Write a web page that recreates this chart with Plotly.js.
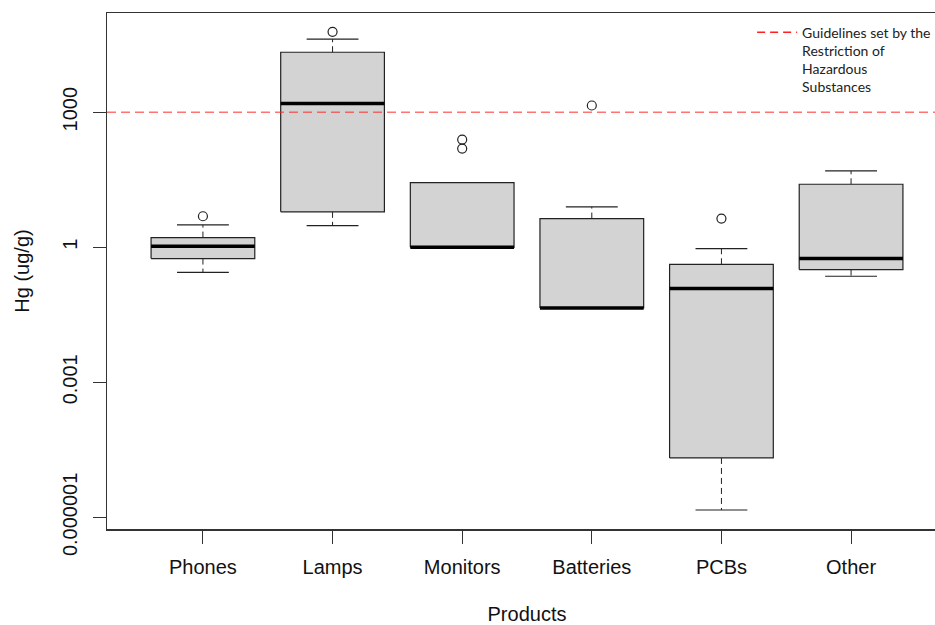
<!DOCTYPE html>
<html>
<head>
<meta charset="utf-8">
<script src="https://cdn.plot.ly/plotly-3.0.1.min.js"></script>
<style>html,body{margin:0;padding:0;background:#fff;overflow:hidden;width:935px;height:625px;}#chart{width:947px;height:625px;}</style>
</head>
<body>
<div id="chart"></div>
<script>
// ---- data ----
var categories = ['Phones', 'Lamps', 'Monitors', 'Batteries', 'PCBs', 'Other'];
var lowerWhisker = [0.278, 3.04, 1.0, 0.045, 1.46e-6, 0.227];
var q1           = [0.561, 6.12, 1.0, 0.045, 2.09e-5, 0.319];
var medians      = [1.05, 1560, 1.0, 0.045, 0.121, 0.561];
var q3           = [1.64, 21500, 27.4, 4.34, 0.419, 25.1];
var upperWhisker = [3.15, 41900, 27.4, 7.9, 0.935, 49.9];
var outlierCategory = ['Phones', 'Lamps', 'Monitors', 'Monitors', 'Batteries', 'PCBs'];
var outlierValues   = [4.89, 61200, 247, 156, 1410, 4.34];
var guidelineValue = 1000;
var guidelineName = 'Guidelines set by the<br>Restriction of<br>Hazardous<br>Substances';
var yTickValues = [1e-6, 1e-3, 1, 1000];
var yTickLabels = ['0.000001', '0.001', '1', '1000'];

// ---- layout helpers ----
var halfBox = 0.4, halfStaple = 0.2;
var xRange = [0.26, 6.74];
var pos = categories.map(function (c, i) { return i + 1; });
var traces = [];

categories.forEach(function (c, i) {
  var x = pos[i];
  traces.push({
    type: 'scatter', mode: 'lines', showlegend: false, hoverinfo: 'skip',
    x: [x - halfBox, x + halfBox, x + halfBox, x - halfBox, x - halfBox],
    y: [q1[i], q1[i], q3[i], q3[i], q1[i]],
    fill: 'toself', fillcolor: '#d3d3d3',
    line: {color: '#222222', width: 1.2}
  });
});

// whiskers (dashed)
var wx = [], wy = [];
categories.forEach(function (c, i) {
  var x = pos[i];
  if (upperWhisker[i] > q3[i]) { wx.push(x, x, null); wy.push(q3[i], upperWhisker[i], null); }
  if (lowerWhisker[i] < q1[i]) { wx.push(x, x, null); wy.push(q1[i], lowerWhisker[i], null); }
});
traces.push({type: 'scatter', mode: 'lines', showlegend: false, hoverinfo: 'skip',
  x: wx, y: wy, line: {color: '#222222', width: 1, dash: '6px,4px'}});

// staples
var sx = [], sy = [];
categories.forEach(function (c, i) {
  var x = pos[i];
  if (upperWhisker[i] > q3[i]) { sx.push(x - halfStaple, x + halfStaple, null); sy.push(upperWhisker[i], upperWhisker[i], null); }
  if (lowerWhisker[i] < q1[i]) { sx.push(x - halfStaple, x + halfStaple, null); sy.push(lowerWhisker[i], lowerWhisker[i], null); }
});
traces.push({type: 'scatter', mode: 'lines', showlegend: false, hoverinfo: 'skip',
  x: sx, y: sy, line: {color: '#222222', width: 1.2}});

// medians
var mx = [], my = [];
categories.forEach(function (c, i) {
  var x = pos[i];
  mx.push(x - halfBox, x + halfBox, null); my.push(medians[i], medians[i], null);
});
traces.push({type: 'scatter', mode: 'lines', showlegend: false, hoverinfo: 'skip',
  x: mx, y: my, line: {color: '#000000', width: 3.5}});

// outliers
traces.push({type: 'scatter', mode: 'markers', showlegend: false, hoverinfo: 'skip',
  x: outlierCategory.map(function (c) { return categories.indexOf(c) + 1; }),
  y: outlierValues,
  marker: {symbol: 'circle-open', size: 9, color: '#222222', line: {width: 1.2}}});

// guideline
traces.push({type: 'scatter', mode: 'lines', name: guidelineName, showlegend: false, hoverinfo: 'skip',
  x: xRange, y: [guidelineValue, guidelineValue],
  line: {color: 'rgba(255,40,40,0.65)', width: 1.5, dash: '9px,5px'}});
traces.push({type: 'scatter', mode: 'lines', name: guidelineName, showlegend: true, hoverinfo: 'skip',
  x: [null], y: [null],
  line: {color: '#ff2020', width: 1.5, dash: '8px,5px'}});

var axisFont = {family: 'Liberation Sans, Arial, sans-serif', size: 20, color: '#111'};
var layout = {
  width: 947, height: 625,
  margin: {l: 107, r: 0, t: 13, b: 96},
  paper_bgcolor: '#fff', plot_bgcolor: '#fff',
  font: axisFont,
  showlegend: true,
  legend: {x: 0.768, xanchor: 'left', y: 0.993, yanchor: 'top', valign: 'top',
    itemwidth: 40,
    bgcolor: 'rgba(0,0,0,0)', borderwidth: 0,
    font: {family: 'Lato, Open Sans, sans-serif', size: 14, color: '#222'}},
  xaxis: {
    range: xRange, tickvals: pos, ticktext: categories,
    showgrid: false, zeroline: false,
    showline: true, mirror: true, linecolor: '#333', linewidth: 1.5,
    ticks: 'outside', ticklen: 13, tickwidth: 1, tickcolor: '#333',
    ticklabelstandoff: 6,
    tickfont: axisFont,
    title: {text: 'Products', font: axisFont, standoff: 34}
  },
  yaxis: {
    type: 'log', range: [-6.258, 5.204],
    tickvals: yTickValues, ticktext: yTickLabels, tickangle: -90,
    showgrid: false, zeroline: false,
    showline: true, mirror: true, linecolor: '#333', linewidth: 1.5,
    ticks: 'outside', ticklen: 13, tickwidth: 1, tickcolor: '#333',
    ticklabelstandoff: 8,
    tickfont: axisFont,
    title: {text: 'Hg (ug/g)', font: axisFont, standoff: 23}
  }
};

Plotly.newPlot('chart', traces, layout, {staticPlot: true, displayModeBar: false});
</script>
</body>
</html>
